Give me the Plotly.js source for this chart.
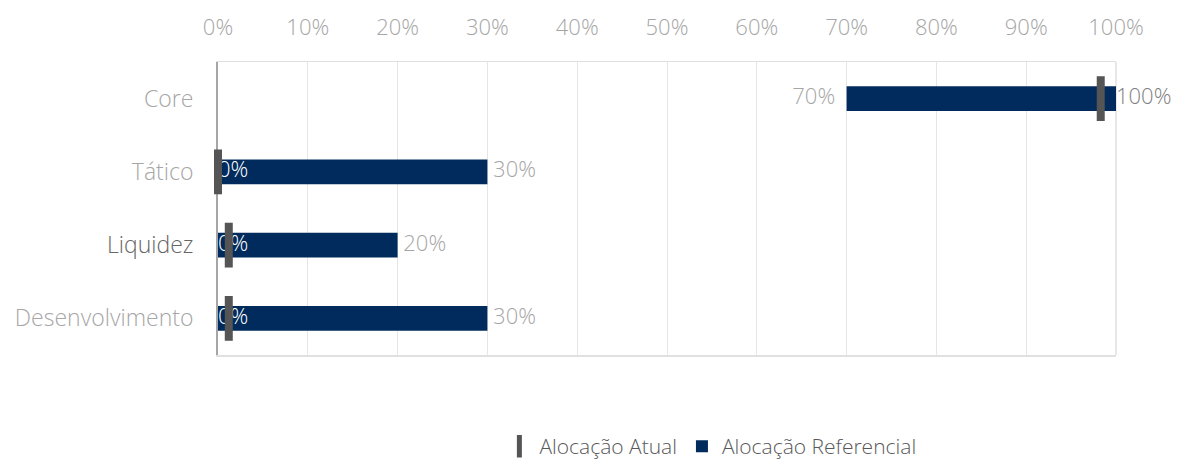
<!DOCTYPE html>
<html>
<head>
<meta charset="utf-8">
<script src="https://cdn.plot.ly/plotly-3.0.1.min.js"></script>
<style>html,body{margin:0;padding:0;background:#fff;}#chart{width:1189px;height:459px;}</style>
</head>
<body>
<div id="chart"></div>
<script>
const categories = ['Core', 'Tático', 'Liquidez', 'Desenvolvimento'];
const refMin = [70, 0, 0, 0];
const refMax = [100, 30, 20, 30];
const atual = [98.3, 0, 1.2, 1.2];
const xTicks = [0, 10, 20, 30, 40, 50, 60, 70, 80, 90, 100];

const FONT = 'Open Sans, sans-serif';
const NAVY = '#002b5c';
const GRAY = '#a6a6a6';

const catText = categories.map(c => c === 'Liquidez'
  ? '<span style="color:#666666">' + c + '</span>'
  : c);

const bars = {
  type: 'bar', orientation: 'h', name: 'Alocação Referencial', legendrank: 2,
  y: categories, base: refMin, x: refMax.map((v, i) => v - refMin[i]),
  width: 0.34, marker: {color: NAVY}, hoverinfo: 'skip'
};
const minLabels = {
  type: 'scatter', mode: 'text', showlegend: false, hoverinfo: 'skip', cliponaxis: false,
  y: categories, x: refMin,
  text: refMin.map(v => v > 0 ? v + '%  ' : v + '%'),
  textposition: refMin.map(v => v > 0 ? 'middle left' : 'middle right'),
  textfont: {family: FONT, size: 22, weight: 300, color: refMin.map(v => v > 0 ? GRAY : '#ffffff')}
};
const maxLabels = {
  type: 'scatter', mode: 'text', showlegend: false, hoverinfo: 'skip', cliponaxis: false,
  y: categories, x: refMax,
  text: refMax.map(v => v === 100 ? v + '%' : ' ' + v + '%'),
  textposition: 'middle right',
  textfont: {family: FONT, size: 22, weight: 300, color: refMax.map(v => v === 100 ? '#7f7f7f' : GRAY)}
};
const markers = {
  type: 'scatter', mode: 'markers', name: 'Alocação Atual', cliponaxis: false, legendrank: 1,
  y: categories, x: atual,
  marker: {symbol: 'line-ns', size: 32, color: '#555555', line: {width: 8, color: '#555555'}},
  hoverinfo: 'skip'
};

const layout = {
  width: 1189, height: 459,
  margin: {l: 218, r: 73, t: 62, b: 104},
  paper_bgcolor: '#ffffff', plot_bgcolor: '#ffffff',
  font: {family: FONT, size: 20, color: GRAY, weight: 300},
  showlegend: true,
  legend: {orientation: 'h', xref: 'container', yref: 'container',
           x: 0.42, xanchor: 'left', y: 0.027, yanchor: 'middle',
           font: {family: FONT, size: 21, color: '#595959', weight: 300},
           traceorder: 'normal', itemwidth: 30},
  xaxis: {
    side: 'top', range: [0, 100], tickvals: xTicks, ticktext: xTicks.map(v => v + '%'),
    showgrid: true, gridcolor: '#e6e6e6', gridwidth: 1, zeroline: false,
    showline: true, mirror: true, linecolor: '#e0e0e0', linewidth: 1.5,
    ticks: 'outside', ticklen: 17, tickcolor: 'rgba(0,0,0,0)', layer: 'below traces',
    tickfont: {family: FONT, size: 22, color: GRAY, weight: 300}, fixedrange: true
  },
  yaxis: {
    type: 'category', categoryorder: 'array', categoryarray: categories,
    autorange: 'reversed', tickvals: categories, ticktext: catText,
    showgrid: false, zeroline: false,
    showline: true, linecolor: '#a6a6a6', linewidth: 2, layer: 'below traces',
    ticks: 'outside', ticklen: 18, tickcolor: 'rgba(0,0,0,0)',
    tickfont: {family: FONT, size: 23, color: GRAY, weight: 300}, fixedrange: true
  },
  shapes: [{type: 'line', xref: 'paper', yref: 'paper', x0: 1, x1: 1, y0: 0, y1: 1, layer: 'below',
            line: {color: '#e0e0e0', width: 1.5}}]
};

Plotly.newPlot('chart', [bars, minLabels, maxLabels, markers], layout, {displayModeBar: false, staticPlot: true});
</script>
</body>
</html>
